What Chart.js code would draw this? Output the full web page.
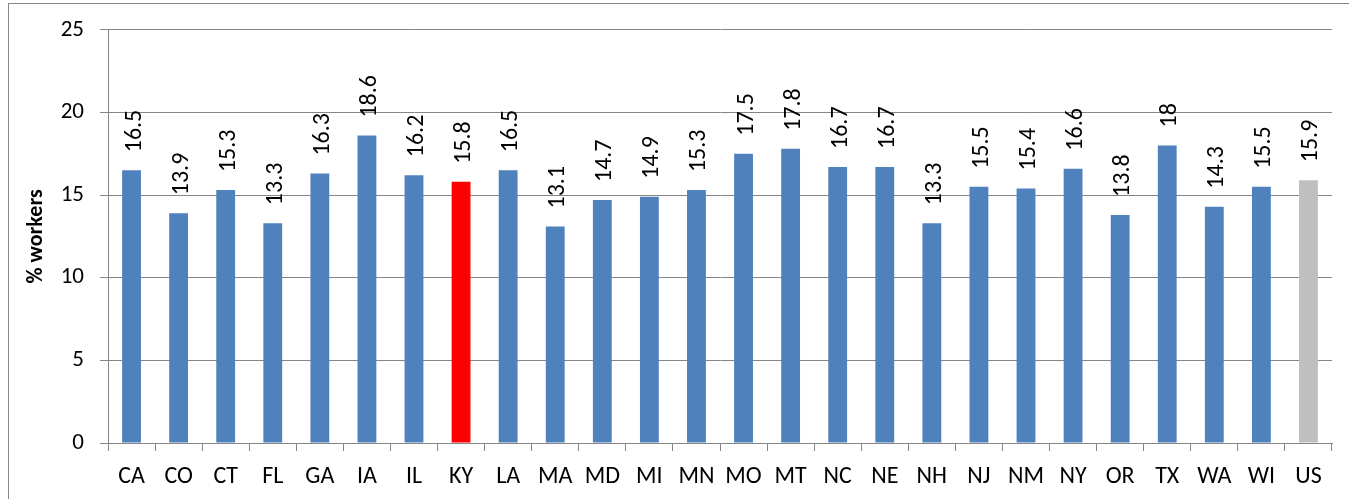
<!DOCTYPE html>
<html>
<head>
<meta charset="utf-8">
<script src="https://cdn.jsdelivr.net/npm/chart.js@4.4.0/dist/chart.umd.min.js"></script>
<style>
    html, body { margin: 0; padding: 0; background: #fff; overflow: hidden; }
    #wrap { position: relative; width: 1349px; height: 499px; }
    #frame { position: absolute; left: 8px; top: 3px; width: 1400px; height: 600px; border: 1px solid #878787; }
    canvas { position: absolute; left: 0; top: 0; }
</style>
</head>
<body>
<div id="wrap">
    <div id="frame"></div>
    <canvas id="chart" width="1349" height="499"></canvas>
</div>
<script>
const states = ["CA", "CO", "CT", "FL", "GA", "IA", "IL", "KY", "LA", "MA", "MD", "MI", "MN",
    "MO", "MT", "NC", "NE", "NH", "NJ", "NM", "NY", "OR", "TX", "WA", "WI", "US"];
const workerPct = [16.5, 13.9, 15.3, 13.3, 16.3, 18.6, 16.2, 15.8, 16.5, 13.1, 14.7, 14.9, 15.3,
    17.5, 17.8, 16.7, 16.7, 13.3, 15.5, 15.4, 16.6, 13.8, 18, 14.3, 15.5, 15.9];
const yTicks = [0, 5, 10, 15, 20, 25];

const FONT = "Carlito, Calibri, Lato, sans-serif";

// bar colours: Kentucky red, US grey, the rest blue
const barColors = states.map(s => s === "KY" ? "#FF0000" : (s === "US" ? "#BFBFBF" : "#4F81BD"));

// rotated value labels above each bar
const valueLabels = {
    id: "valueLabels",
    afterDatasetsDraw(chart) {
        const ctx = chart.ctx;
        const meta = chart.getDatasetMeta(0);
        ctx.save();
        ctx.font = "24px " + FONT;
        ctx.fillStyle = "#000";
        ctx.textAlign = "left";
        ctx.textBaseline = "middle";
        meta.data.forEach((bar, i) => {
            ctx.save();
            ctx.translate(bar.x + 3, bar.y - 18);
            ctx.rotate(-Math.PI / 2);
            ctx.fillText(String(workerPct[i]), 0, 0);
            ctx.restore();
        });
        ctx.restore();
    }
};

new Chart(document.getElementById("chart").getContext("2d"), {
    type: "bar",
    data: {
        labels: states,
        datasets: [{
            data: workerPct,
            backgroundColor: barColors,
            barPercentage: 0.4,
            categoryPercentage: 1.0
        }]
    },
    options: {
        responsive: false,
        animation: false,
        layout: { padding: { left: 0, top: 28, right: 17, bottom: 0 } },
        plugins: { legend: { display: false }, tooltip: { enabled: false } },
        scales: {
            x: {
                offset: true,
                grid: { offset: true, drawOnChartArea: false, color: "#868686", tickLength: 8 },
                border: { color: "#868686" },
                ticks: { color: "#000", font: { family: FONT, size: 24 }, padding: 12, maxRotation: 0, autoSkip: false },
                afterFit(scale) { scale.height = 56; }
            },
            y: {
                min: 0,
                max: 25,
                afterBuildTicks(scale) { scale.ticks = yTicks.map(v => ({ value: v })); },
                grid: { color: "#868686", tickLength: 8 },
                border: { color: "#868686" },
                ticks: { color: "#000", font: { family: FONT, size: 23 }, padding: 16 },
                title: {
                    display: true,
                    text: "% workers",
                    color: "#000",
                    font: { family: FONT, size: 22, weight: "bold" },
                    padding: { top: 23, bottom: 0 }
                },
                afterFit(scale) { scale.width = 108; }
            }
        }
    },
    plugins: [valueLabels]
});
</script>
</body>
</html>
